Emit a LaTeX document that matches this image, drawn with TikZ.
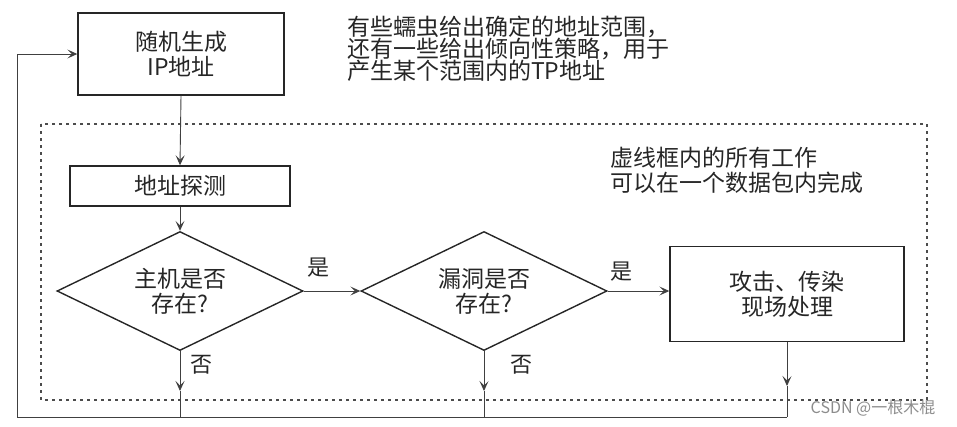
\documentclass[tikz,border=0pt]{standalone}
\usepackage{fontspec}
\setmainfont{Noto Sans CJK SC}
\usetikzlibrary{shapes.geometric,arrows.meta}
\begin{document}
\begin{tikzpicture}[x=1pt,y=-1pt,
  txt/.style={font=\fontsize{23}{25}\selectfont, text=black!85},
  box/.style={txt, draw=black!85, line width=1.4pt, inner sep=0pt, align=center},
  dia/.style={txt, diamond, draw=black!85, line width=1.4pt, inner sep=0pt, aspect=2.07, align=center, minimum width=246pt, minimum height=119pt},
  conn/.style={draw=black!75, line width=0.9pt},
  arr/.style={conn, -{Stealth[length=10pt,width=9pt,inset=4.5pt]}},
  lbl/.style={txt, font=\fontsize{22}{24}\selectfont, inner sep=0pt},
  note/.style={txt, align=left, anchor=west, inner sep=0pt},
  dotbox/.style={draw=black!70, line width=1.1pt, dash pattern=on 3pt off 4pt}
]
\useasboundingbox (0,0) rectangle (957,426);

% dotted frame
\draw[dotbox] (41,124) rectangle (927,400);

% nodes
\node[box, minimum width=206pt, minimum height=82pt] (b1) at (181,54) {随机生成\\IP地址};
\node[box, minimum width=220pt, minimum height=40pt] (b2) at (180,186) {地址探测};
\node[dia] (d1) at (180,291) {主机是否\\存在?};
\node[dia] (d2) at (484,291) {漏洞是否\\存在?};
\node[box, minimum width=234pt, minimum height=95pt] (b3) at (787,294) {攻击、传染\\现场处理};

% notes
\node[note, font=\fontsize{23}{22}\selectfont] (n1) at (347,49) {有些蠕虫给出确定的地址范围，\\还有一些给出倾向性策略，用于\\产生某个范围内的TP地址};
\node[note] (n2) at (610,170) {虚线框内的所有工作\\可以在一个数据包内完成};

% labels
\node[lbl] (y1) at (318,268) {是};
\node[lbl] (y2) at (621,272) {是};
\node[lbl] (no1) at (201,365) {否};
\node[lbl] (no2) at (521,365) {否};

% coordinates
\coordinate (t1) at (180,391);
\coordinate (t2) at (484,391);
\coordinate (t3) at (787,386);
\coordinate (f1) at (180,417);
\coordinate (f2) at (484,417);
\coordinate (f3) at (787,417);
\coordinate (fl) at (17,417);

% connectors
\draw[arr] (b1.south) -- (b2.north);
\draw[arr] (b2.south) -- (d1.north);
\draw[arr] (d1.east) -- (d2.west);
\draw[arr] (d2.east) -- (d2.east -| b3.west);
\draw[arr] (d1.south) -- (t1);
\draw[arr] (d2.south) -- (t2);
\draw[arr] (b3.south) -- (t3);
\draw[conn] (t1) -- (f1);
\draw[conn] (t2) -- (f2);
\draw[conn] (t3) -- (f3);
\draw[arr] (f3) -- (fl) |- (b1.west);

% watermark
\node[font=\fontsize{16}{18}\selectfont, text=black!45, inner sep=0pt] (wm) at (873,408) {CSDN @一根木棍};
\end{tikzpicture}
\end{document}
